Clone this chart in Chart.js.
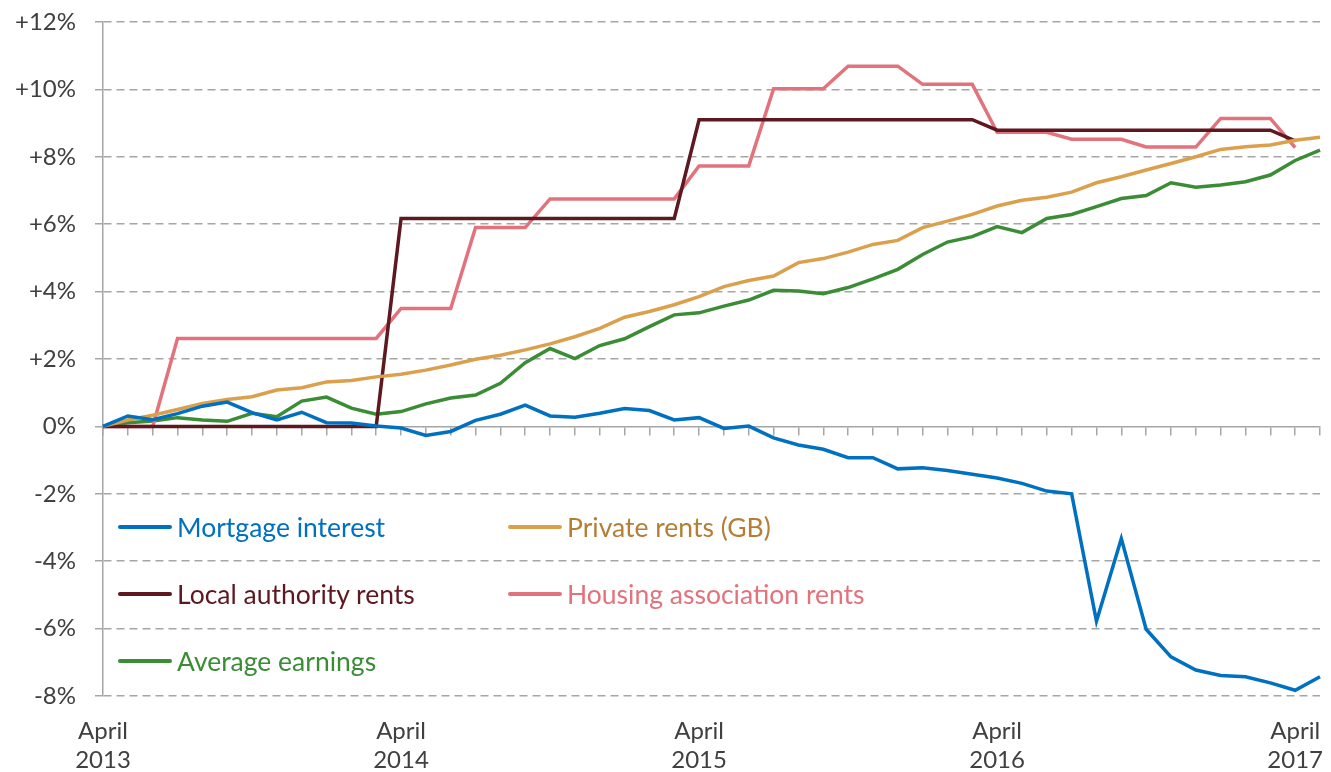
<!DOCTYPE html>
<html lang="en">
<head>
  <meta charset="UTF-8">
  <title>Housing costs vs earnings</title>
  <script src="https://cdn.jsdelivr.net/npm/chart.js"></script>
  <style>
    html, body { margin: 0; padding: 0; background: #fff; }
    body { width: 1331px; height: 772px; overflow: hidden; font-family: Lato, "Open Sans", sans-serif; }
    #wrap { position: relative; width: 1331px; height: 772px; }
    #legend { position: absolute; left: 118px; top: 510px; width: 800px; }
    .item { position: absolute; display: flex; align-items: center; font-size: 26.5px; line-height: 34px; white-space: nowrap; }
    .item span.swatch { display: inline-block; width: 54px; height: 4px; border-radius: 2px; margin-right: 5px; }
  </style>
</head>
<body>
  <div id="wrap">
    <canvas id="chart" width="1331" height="772"></canvas>
    <div id="legend"></div>
  </div>

  <script>
    // months April 2013 .. May 2017
    const months = [
      'Apr 2013','May 2013','Jun 2013','Jul 2013','Aug 2013','Sep 2013','Oct 2013','Nov 2013','Dec 2013','Jan 2014','Feb 2014','Mar 2014',
      'Apr 2014','May 2014','Jun 2014','Jul 2014','Aug 2014','Sep 2014','Oct 2014','Nov 2014','Dec 2014','Jan 2015','Feb 2015','Mar 2015',
      'Apr 2015','May 2015','Jun 2015','Jul 2015','Aug 2015','Sep 2015','Oct 2015','Nov 2015','Dec 2015','Jan 2016','Feb 2016','Mar 2016',
      'Apr 2016','May 2016','Jun 2016','Jul 2016','Aug 2016','Sep 2016','Oct 2016','Nov 2016','Dec 2016','Jan 2017','Feb 2017','Mar 2017',
      'Apr 2017','May 2017'
    ];

    const yTicks = [-8, -6, -4, -2, 0, 2, 4, 6, 8, 10, 12];

    const mortgage = [
      0, 0.31, 0.2, 0.38, 0.6, 0.72, 0.41, 0.19, 0.42, 0.11, 0.1, 0.01,
      -0.05, -0.27, -0.15, 0.18, 0.36, 0.63, 0.31, 0.27, 0.39, 0.53, 0.47, 0.19,
      0.26, -0.06, 0.01, -0.34, -0.55, -0.68, -0.93, -0.93, -1.26, -1.23, -1.31, -1.42,
      -1.53, -1.69, -1.92, -2.0, -5.78, -3.33, -6.02, -6.84, -7.23, -7.39, -7.43, -7.61,
      -7.83, -7.43
    ];
    const privateRents = [
      0, 0.19, 0.33, 0.5, 0.68, 0.8, 0.88, 1.08, 1.15, 1.32, 1.36, 1.47,
      1.55, 1.67, 1.82, 1.99, 2.11, 2.27, 2.45, 2.66, 2.91, 3.24, 3.41, 3.61,
      3.85, 4.15, 4.33, 4.46, 4.86, 4.98, 5.17, 5.4, 5.52, 5.9, 6.09, 6.29,
      6.54, 6.71, 6.8, 6.95, 7.23, 7.41, 7.61, 7.8, 8.0, 8.22, 8.3, 8.35,
      8.49, 8.58
    ];
    const localAuthority = [
      0, 0, 0, 0, 0, 0, 0, 0, 0, 0, 0, 0,
      6.17, 6.17, 6.17, 6.17, 6.17, 6.17, 6.17, 6.17, 6.17, 6.17, 6.17, 6.17,
      9.1, 9.1, 9.1, 9.1, 9.1, 9.1, 9.1, 9.1, 9.1, 9.1, 9.1, 9.1,
      8.79, 8.79, 8.79, 8.79, 8.79, 8.79, 8.79, 8.79, 8.79, 8.79, 8.79, 8.79,
      8.47
    ];
    const housingAssoc = [
      0, 0, 0, 2.61, 2.61, 2.61, 2.61, 2.61, 2.61, 2.61, 2.61, 2.61,
      3.5, 3.5, 3.5, 5.9, 5.9, 5.9, 6.75, 6.75, 6.75, 6.75, 6.75, 6.75,
      7.73, 7.73, 7.73, 10.02, 10.02, 10.02, 10.69, 10.69, 10.69, 10.15, 10.15, 10.15,
      8.73, 8.73, 8.73, 8.52, 8.52, 8.52, 8.29, 8.29, 8.29, 9.14, 9.14, 9.14,
      8.27
    ];
    const earnings = [
      0, 0.11, 0.16, 0.26, 0.19, 0.15, 0.39, 0.29, 0.75, 0.87, 0.54, 0.36,
      0.44, 0.67, 0.84, 0.93, 1.28, 1.89, 2.31, 2.01, 2.4, 2.6, 2.96, 3.31,
      3.37, 3.57, 3.75, 4.04, 4.02, 3.94, 4.12, 4.38, 4.66, 5.1, 5.47, 5.63,
      5.93, 5.75, 6.17, 6.29, 6.52, 6.76, 6.85, 7.23, 7.1, 7.16, 7.26, 7.46,
      7.89, 8.2
    ];

    const series = [
      { label: 'Mortgage interest', data: mortgage, color: '#0070C0', text: '#0070C0' },
      { label: 'Private rents (GB)', data: privateRents, color: '#DAA04C', text: '#B47E36' },
      { label: 'Local authority rents', data: localAuthority, color: '#5E1820', text: '#5E1820' },
      { label: 'Housing association rents', data: housingAssoc, color: '#E2737D', text: '#E2737D' },
      { label: 'Average earnings', data: earnings, color: '#3A8C35', text: '#3A8C35' }
    ];

    const gridGrey = '#A6A6A6';
    const textGrey = '#404040';

    const ctx = document.getElementById('chart').getContext('2d');
    const chart = new Chart(ctx, {
      type: 'line',
      data: {
        labels: months,
        datasets: series.map(s => ({
          label: s.label,
          data: s.data,
          borderColor: s.color,
          backgroundColor: s.color,
          borderWidth: 3.5,
          pointRadius: 0,
          tension: 0,
          fill: false
        }))
      },
      options: {
        responsive: false,
        animation: false,
        layout: { padding: { top: 22, right: 11, bottom: 0, left: 0 } },
        plugins: { legend: { display: false }, tooltip: { enabled: false } },
        scales: {
          x: {
            type: 'category',
            position: 'bottom',
            offset: false,
            grid: { display: false, drawTicks: false },
            border: { display: false },
            ticks: {
              autoSkip: false,
              maxRotation: 0,
              padding: 21,
              color: textGrey,
              font: { family: 'Lato', size: 24 },
              callback: function (val, i) {
                const m = months[i];
                if (m.startsWith('Apr')) return ['April', m.slice(4)];
                return null;
              }
            },
            afterFit: s => { s.height = 76; s.paddingLeft = 0; s.paddingRight = 0; }
          },
          xz: {
            type: 'category',
            position: { y: 0 },
            offset: false,
            grid: { display: true, drawOnChartArea: false, drawTicks: true, tickLength: 8, color: gridGrey, lineWidth: 1.5 },
            border: { display: true, color: gridGrey, width: 1.5 },
            ticks: { display: false, autoSkip: false }
          },
          y: {
            min: -8,
            max: 12,
            afterBuildTicks: s => { s.ticks = yTicks.map(v => ({ value: v })); },
            grid: {
              color: c => (c.tick && c.tick.value === 0) ? 'rgba(0,0,0,0)' : gridGrey,
              lineWidth: 1.5,
              drawTicks: true,
              tickLength: 8,
              tickColor: gridGrey,
              tickBorderDash: []
            },
            border: { display: true, color: gridGrey, width: 1.5, dash: [8, 5] },
            ticks: {
              padding: 19,
              color: textGrey,
              font: { family: 'Lato', size: 24 },
              callback: v => (v > 0 ? '+' : '') + v + '%'
            },
            afterFit: s => { s.width = 103; s.paddingTop = 0; s.paddingBottom = 0; }
          }
        }
      }
    });

    // legend, two columns inside the plot
    const legend = document.getElementById('legend');
    const slots = [[0, 0], [390, 0], [0, 67], [390, 67], [0, 134]];
    series.forEach((s, i) => {
      const el = document.createElement('div');
      el.className = 'item';
      el.style.left = slots[i][0] + 'px';
      el.style.top = slots[i][1] + 'px';
      el.style.color = s.text;
      el.innerHTML = '<span class="swatch" style="background:' + s.color + '"></span>' + s.label;
      legend.appendChild(el);
    });
  </script>
</body>
</html>
